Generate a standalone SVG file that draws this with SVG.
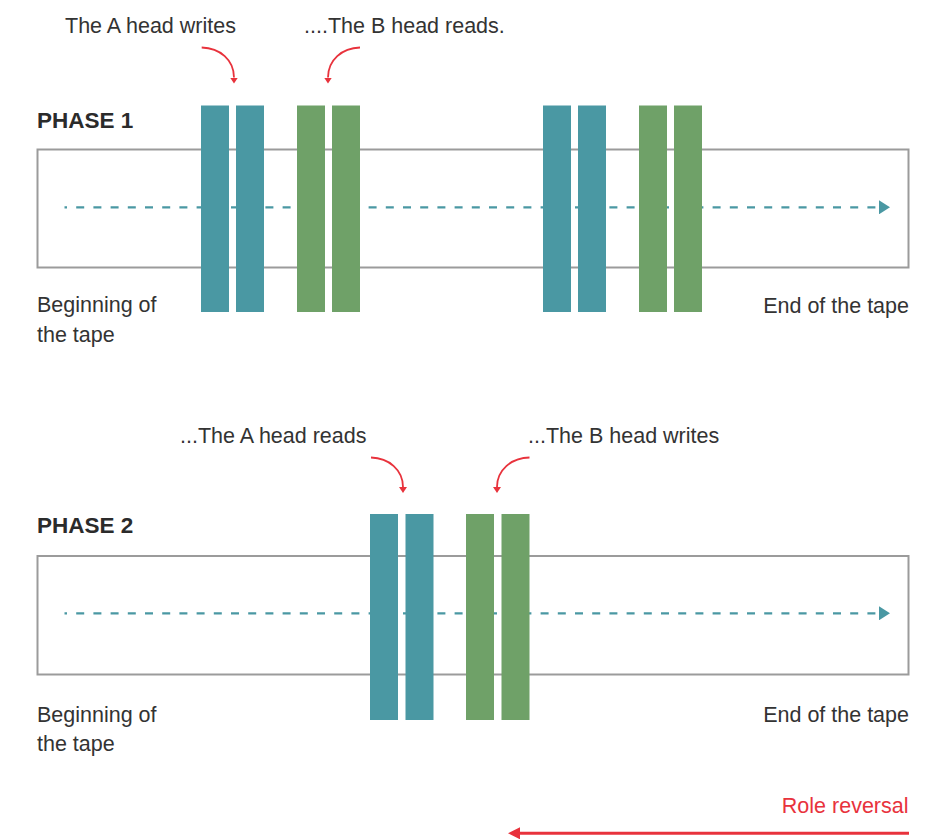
<svg xmlns="http://www.w3.org/2000/svg" width="926" height="839" viewBox="0 0 926 839">
<defs>
<style>
.lbl{font-family:"Liberation Sans",Arial,sans-serif;font-size:21.5px;fill:#333333}
.ph{font-family:"Liberation Sans",Arial,sans-serif;font-size:22.5px;font-weight:bold;fill:#2b2b2b}
.red{font-family:"Liberation Sans",Arial,sans-serif;font-size:21.5px;fill:#e8323c}
.tape{fill:#ffffff;stroke:#9b9b9b;stroke-width:2}
.dash{fill:none;stroke:#4a98a3;stroke-width:2.2;stroke-dasharray:8 9.2;stroke-dashoffset:5.5}
.teal{fill:#4a98a3}
.green{fill:#6fa168}
.curve{fill:none;stroke:#e8323c;stroke-width:1.8}
.rev{fill:none;stroke:#e8323c;stroke-width:3}
</style>
<marker id="mTeal" markerUnits="userSpaceOnUse" viewBox="0 0 11 14" markerWidth="11" markerHeight="14" refX="0" refY="7" orient="auto">
<path d="M0,0 L11,7 L0,14 z" fill="#4a98a3"/>
</marker>
<marker id="mRed" markerUnits="userSpaceOnUse" viewBox="0 0 6 8" markerWidth="6" markerHeight="8" refX="0" refY="4" orient="auto">
<path d="M0,0 L6,4 L0,8 z" fill="#e8323c"/>
</marker>
<marker id="mRedBig" markerUnits="userSpaceOnUse" viewBox="0 0 12 12" markerWidth="12" markerHeight="12" refX="0" refY="6" orient="auto">
<path d="M0,0 L12,6 L0,12 z" fill="#e8323c"/>
</marker>
</defs>
<rect width="926" height="839" fill="#ffffff"/>

<g id="phase1">
<g id="tape1"><rect class="tape" x="37.5" y="149.5" width="871" height="118"/></g>
<g id="labels1">
<text class="ph" x="37" y="128">PHASE 1</text>
<text class="lbl" x="37" y="312">Beginning of</text>
<text class="lbl" x="37" y="341.5">the tape</text>
<text class="lbl" x="909" y="312.5" text-anchor="end">End of the tape</text>
<text class="lbl" x="65" y="32.7">The A head writes</text>
<text class="lbl" x="304" y="32.7">....The B head reads.</text>
</g>
</g>

<g id="phase2">
<g id="tape2"><rect class="tape" x="37.5" y="556" width="871" height="118.5"/></g>
<g id="labels2">
<text class="ph" x="37" y="533.3">PHASE 2</text>
<text class="lbl" x="37" y="721.5">Beginning of</text>
<text class="lbl" x="37" y="751">the tape</text>
<text class="lbl" x="909" y="721.5" text-anchor="end">End of the tape</text>
<text class="lbl" x="180" y="442.7">...The A head reads</text>
<text class="lbl" x="528" y="442.7">...The B head writes</text>
</g>
</g>

<g id="connectors">
<path class="dash" d="M64.5,207.3 H879" marker-end="url(#mTeal)"/>
<path class="dash" d="M64.5,613.3 H879" marker-end="url(#mTeal)"/>
<path class="curve" d="M201.7,47.5 C220,48 234,60 234,77.5" marker-end="url(#mRed)"/>
<path class="curve" d="M360,47.5 C342,48 328,60 328,77.5" marker-end="url(#mRed)"/>
<path class="curve" d="M371,457.5 C389,458 403,470 403,487" marker-end="url(#mRed)"/>
<path class="curve" d="M529.5,457.5 C511,458 497,470 497,487" marker-end="url(#mRed)"/>
<path class="rev" d="M909,833.3 H520" marker-end="url(#mRedBig)"/>
</g>

<g id="headA1a"><rect class="teal" x="201" y="105.5" width="28" height="206.5"/><rect class="teal" x="236" y="105.5" width="28" height="206.5"/></g>
<g id="headB1a"><rect class="green" x="297" y="105.5" width="28" height="206.5"/><rect class="green" x="332" y="105.5" width="28" height="206.5"/></g>
<g id="headA1b"><rect class="teal" x="543" y="105.5" width="28" height="206.5"/><rect class="teal" x="578" y="105.5" width="28" height="206.5"/></g>
<g id="headB1b"><rect class="green" x="639" y="105.5" width="28" height="206.5"/><rect class="green" x="674" y="105.5" width="28" height="206.5"/></g>
<g id="headA2"><rect class="teal" x="370" y="514" width="28" height="206"/><rect class="teal" x="405.5" y="514" width="28" height="206"/></g>
<g id="headB2"><rect class="green" x="466" y="514" width="28" height="206"/><rect class="green" x="501.5" y="514" width="28" height="206"/></g>

<g id="roleReversal"><text class="red" x="908.5" y="813.3" text-anchor="end">Role reversal</text></g>
</svg>
